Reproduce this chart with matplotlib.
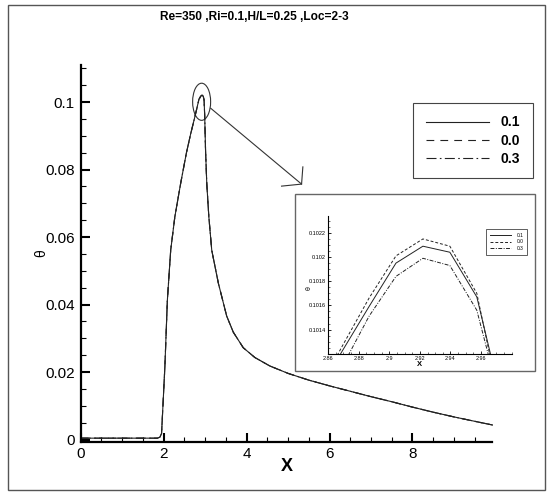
import matplotlib
matplotlib.use("Agg")
import matplotlib.pyplot as plt
from matplotlib.patches import Ellipse, Rectangle
from matplotlib.lines import Line2D
from matplotlib.ticker import FixedLocator, MultipleLocator, FuncFormatter

plt.rcParams['font.family'] = ['Liberation Sans', 'DejaVu Sans']

labels = ['0.1', '0.0', '0.3']

# rise of the profile (the three cases coincide at this scale)
x_rise = [0.0, 0.5, 1.0, 1.5, 1.85, 1.91, 1.95, 1.99, 2.03, 2.06, 2.09,
          2.17, 2.27, 2.41, 2.55, 2.65, 2.75]
theta_rise = [0.0004, 0.0004, 0.0004, 0.0004, 0.0004, 0.0007, 0.0018, 0.0117,
              0.0216, 0.0315, 0.0413, 0.0561, 0.0660, 0.0759, 0.0850, 0.0905, 0.0955]

# around the peak
x_peak = [2.8516, 2.8692, 2.8868, 2.9044, 2.9220, 2.9396, 2.9572, 2.9748]
theta_01_peak = [0.10084, 0.10122, 0.10159, 0.10195, 0.10209, 0.10204, 0.10167, 0.10074]
theta_00_peak = [0.10085, 0.10126, 0.10166, 0.10201, 0.10215, 0.10209, 0.10170, 0.10064]
theta_03_peak = [0.10067, 0.10109, 0.10151, 0.10184, 0.10199, 0.10193, 0.10156, 0.10070]

# decay after the peak
x_tail = [2.99, 3.01, 3.04, 3.09, 3.16, 3.32, 3.52, 3.68, 3.92, 4.2, 4.56,
          5.0, 5.5, 6.0, 6.5, 7.0, 7.5, 8.0, 8.5, 9.0, 9.5, 9.93]
theta_tail = [0.0960, 0.0860, 0.0759, 0.0660, 0.0561, 0.0463, 0.0366, 0.0318,
              0.0272, 0.0243, 0.0218, 0.0196, 0.0176, 0.0159, 0.0143, 0.0127,
              0.0112, 0.0096, 0.0081, 0.0067, 0.0054, 0.0043]

peaks = [theta_01_peak, theta_00_peak, theta_03_peak]
dash_main = [None, (7, 5.5), (9, 3, 1.5, 3)]
dash_small = [None, (3, 2), (4, 1.5, 1, 1.5)]

W, H = 547.0, 492.0
fig = plt.figure(figsize=(5.47, 4.92), dpi=100)

# outer frame
fig.add_artist(Rectangle((8 / W, 1 - 490 / H), 537 / W, 485 / H, transform=fig.transFigure,
                         fill=False, edgecolor='#555555', lw=1))

fig.text(254 / W, 1 - 17 / H, 'Re=350 ,Ri=0.1,H/L=0.25 ,Loc=2-3',
         ha='center', va='center', fontsize=8.6, fontweight='bold')

# ---- main plot
ax = fig.add_axes([80.7 / W, 1 - 441.7 / H, (492.5 - 80.7) / W, (441.7 - 65) / H])
handles = []
for i in [2, 1, 0]:
    xs = x_rise + x_peak + x_tail
    ys = theta_rise + peaks[i] + theta_tail
    line, = ax.plot(xs, ys, color='#222222', lw=0.8, label=labels[i])
    if dash_main[i]:
        line.set_dashes(dash_main[i])
for i in range(3):
    h = Line2D([], [], color='#222222', lw=0.8)
    if dash_main[i]:
        h.set_dashes(dash_main[i])
    handles.append(h)

ax.set_xlim(0, 9.93)
ax.set_ylim(-0.00065, 0.111)
for s in ['top', 'right']:
    ax.spines[s].set_visible(False)
for s in ['left', 'bottom']:
    ax.spines[s].set_linewidth(1.6)
ax.xaxis.set_major_locator(FixedLocator([0, 2, 4, 6, 8]))
ax.xaxis.set_minor_locator(MultipleLocator(0.5))
ax.yaxis.set_major_locator(FixedLocator([0, 0.02, 0.04, 0.06, 0.08, 0.1]))
ax.yaxis.set_minor_locator(MultipleLocator(0.005))
ax.xaxis.set_major_formatter(FuncFormatter(lambda v, p: '%g' % round(v, 4)))
ax.yaxis.set_major_formatter(FuncFormatter(lambda v, p: '%g' % round(v, 4)))
ax.tick_params(which='major', direction='in', length=6.5, width=1.5, labelsize=11)
ax.tick_params(which='minor', direction='in', length=3.5, width=0.8)
ax.tick_params(axis='x', which='major', pad=3.5)
ax.tick_params(axis='y', which='major', pad=4.3)

ax.set_xlabel('X', fontsize=13, fontweight='bold')
ax.xaxis.label.set_va('center')
ax.xaxis.set_label_coords(0.5, -0.066)
ax.set_ylabel('θ', fontsize=10)
ax.yaxis.label.set_va('center')
ax.yaxis.set_label_coords(-0.097, 0.5)

leg = ax.legend(handles, labels, loc='upper left', bbox_to_anchor=(413 / W, 1 - 103 / H),
                bbox_transform=fig.transFigure, borderaxespad=0, fancybox=False,
                framealpha=1, edgecolor='#444444', handlelength=4.6, handletextpad=0.8,
                borderpad=0.9, labelspacing=0.3, prop={'weight': 'bold', 'size': 10})
leg.get_frame().set_linewidth(0.8)

# circle around the peak and the pointer to the inset
ax.add_patch(Ellipse((2.916, 0.1001), 0.434, 0.011, fill=False, edgecolor='#333333',
                     lw=0.8, clip_on=False))
ax.plot([3.133, 5.326], [0.0982, 0.0757], color='#333333', lw=0.8, clip_on=False)
ax.plot([5.357, 5.326, 4.843], [0.0808, 0.0757, 0.0751], color='#333333', lw=0.8,
        clip_on=False)

# ---- inset
fig.add_artist(Rectangle((295 / W, 1 - 370.7 / H), 240 / W, 176.7 / H,
                         transform=fig.transFigure, facecolor='white',
                         edgecolor='#666666', lw=1, zorder=3))
ins = fig.add_axes([328 / W, 1 - 353.7 / H, (511.7 - 328) / W, (353.7 - 216) / H], zorder=5)
ins.set_facecolor('none')
ins_handles = []
for i in range(3):
    line, = ins.plot(x_rise + x_peak + x_tail, theta_rise + peaks[i] + theta_tail,
                     color='#222222', lw=0.7)
    if dash_small[i]:
        line.set_dashes(dash_small[i])
    ins_handles.append(line)
ins.set_xlim(2.86, 2.98)
ins.set_ylim(0.1012, 0.10234)
for s in ['top', 'right']:
    ins.spines[s].set_visible(False)
for s in ['left', 'bottom']:
    ins.spines[s].set_linewidth(0.8)
ins.xaxis.set_major_locator(FixedLocator([2.86, 2.88, 2.90, 2.92, 2.94, 2.96]))
ins.xaxis.set_minor_locator(MultipleLocator(0.005))
ins.yaxis.set_major_locator(FixedLocator([0.1014, 0.1016, 0.1018, 0.1020, 0.1022]))
ins.yaxis.set_minor_locator(MultipleLocator(0.00005))
ins.xaxis.set_major_formatter(FuncFormatter(lambda v, p: ('%.2f' % v).rstrip('0')))
ins.yaxis.set_major_formatter(FuncFormatter(lambda v, p: ('%.4f' % v).rstrip('0')))
ins.tick_params(which='major', direction='in', length=2.5, width=0.6, labelsize=4, pad=1.5)
ins.tick_params(which='minor', direction='in', length=1.3, width=0.4)
ins.set_xlabel('X', fontsize=5.5, fontweight='bold', labelpad=0.5)
ins.set_ylabel('θ', fontsize=5)
ins.yaxis.label.set_va('center')
ins.yaxis.set_label_coords(-0.103, 0.48)

ileg = ins.legend(ins_handles, labels, loc='upper left', bbox_to_anchor=(486 / W, 1 - 229.3 / H),
                  bbox_transform=fig.transFigure, borderaxespad=0, fancybox=False,
                  framealpha=1, edgecolor='#444444', handlelength=4.4, handletextpad=1.1,
                  borderpad=0.75, labelspacing=0.3, prop={'size': 3.5})
ileg.get_frame().set_linewidth(0.6)

fig.savefig('out.png', dpi=100)
